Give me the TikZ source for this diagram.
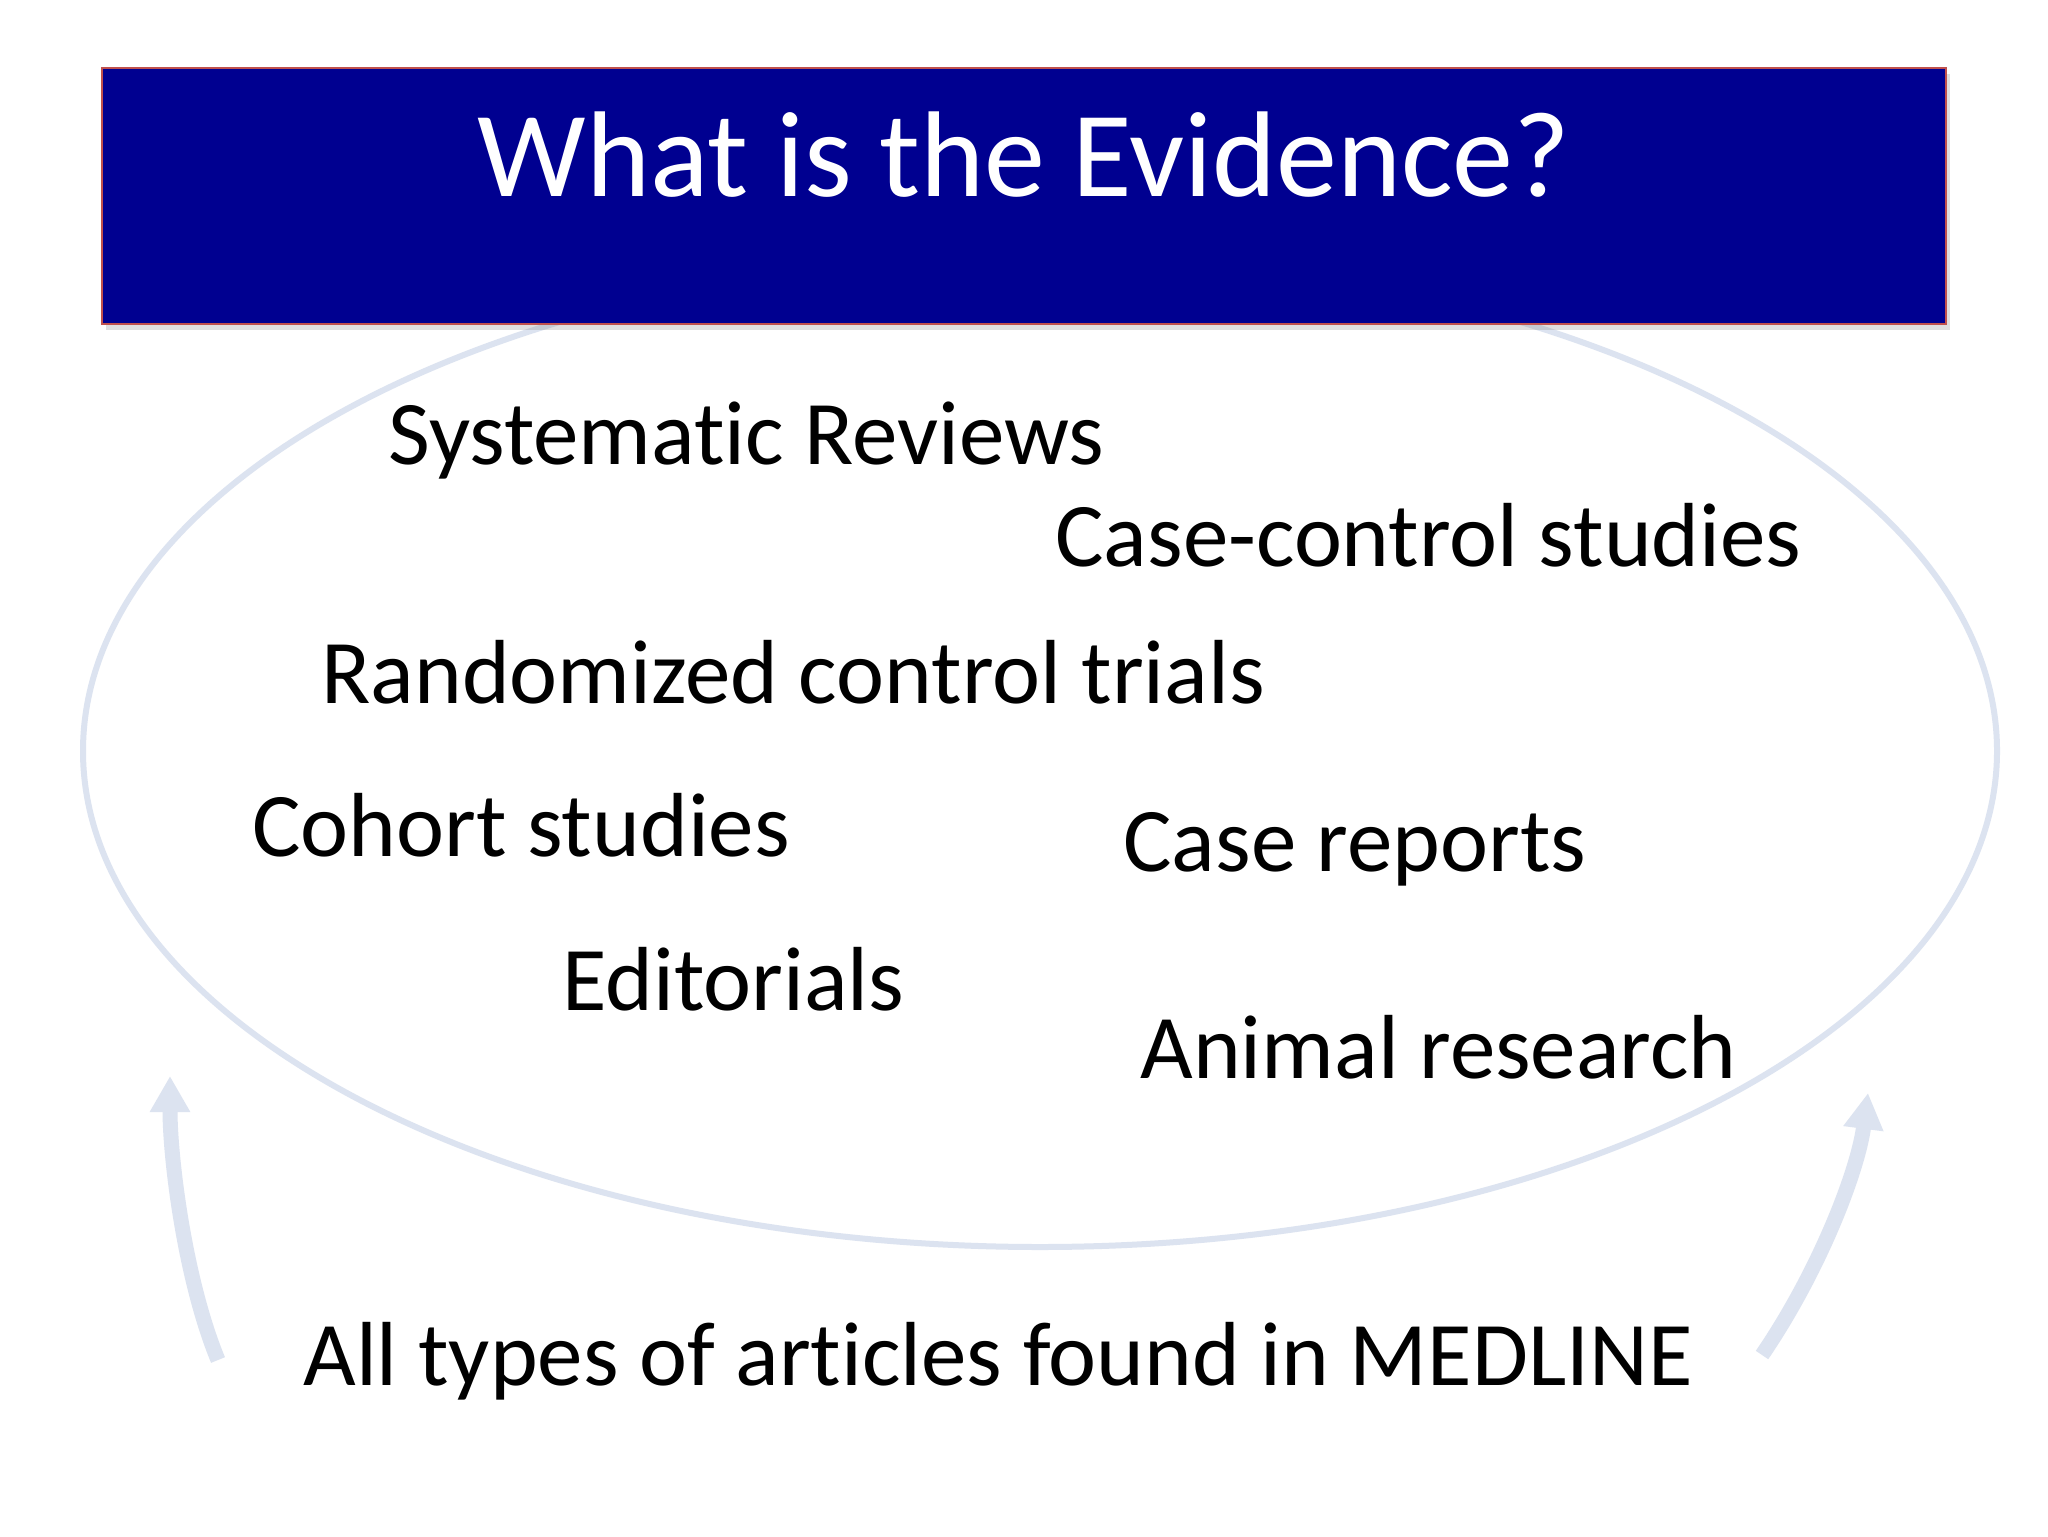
\documentclass[tikz,border=0pt]{standalone}
\usepackage{fontspec}
\setmainfont[Ligatures={NoCommon,NoContextual},RawFeature={-liga;-clig;-calt;-rlig;-dlig}]{Carlito}
\usetikzlibrary{arrows.meta,shadows,shapes.geometric}
\definecolor{titlebg}{HTML}{000090}
\definecolor{titleborder}{HTML}{C0504D}
\definecolor{pale}{HTML}{DCE3F0}
\tikzset{
  item/.style={anchor=base west, inner sep=0pt, font=\fontsize{45.5}{54}\selectfont, text=black},
  palearrow/.style={draw=pale, line width=7.5pt, -{Triangle[length=18pt,width=19pt]}},
}
\begin{document}
\begin{tikzpicture}[x=0.5pt,y=-0.5pt]
\useasboundingbox[fill=white] (0,0) rectangle (2048,1536);
\node (ell) [draw=pale, line width=3pt, ellipse, inner sep=0pt, minimum width=957pt, minimum height=496pt] at (1040,751) {};
\node (title) [draw=titleborder, line width=1.2pt, fill=titlebg, minimum width=922pt, minimum height=128pt, inner sep=0pt, drop shadow={shadow xshift=2pt, shadow yshift=-3pt, opacity=0.25}] at (1024,196) {};
\node (ttext) [anchor=base, inner sep=0pt, text=white, font=\fontsize{61}{73}\selectfont] at (1024,196) {What is the Evidence?};
\node (sr) [item] at (388,464) {Systematic Reviews};
\node (cc) [item] at (1055,566) {Case-control studies};
\node (rct) [item] at (321,703) {Randomized control trials};
\node (co) [item] at (252,856) {Cohort studies};
\node (cr) [item] at (1123,871) {Case reports};
\node (ed) [item] at (562,1010) {Editorials};
\node (an) [item] at (1140,1078) {Animal research};
\node (all) [item] at (303,1385) {All types of articles found in MEDLINE};
\coordinate (lt) at (218,1360);
\coordinate (lh) at (170,1076);
\coordinate (rt) at (1762,1355);
\coordinate (rh) at (1868,1093);
\draw[palearrow] (lt) .. controls (185,1280) and (170,1160) .. (lh);
\draw[palearrow] (rt) .. controls (1820,1270) and (1858,1170) .. (rh);
\end{tikzpicture}
\end{document}
